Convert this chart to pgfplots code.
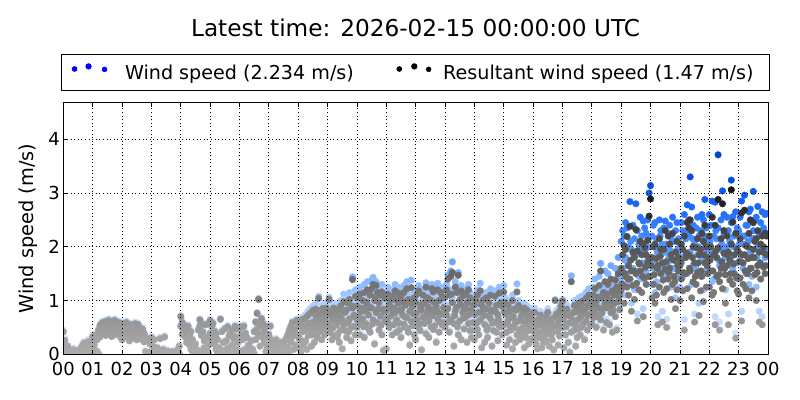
\documentclass[border=0pt]{standalone}
\usepackage{pgfplots}
\pgfplotsset{compat=1.18}
\usepackage{pgfplotstable}
\usepackage{fontspec}
\setmainfont{DejaVu Sans}
\pgfplotsset{
  colormap={blues}{rgb255(0cm)=(228,238,255) rgb255(1cm)=(205,225,255) rgb255(2cm)=(168,204,255) rgb255(3cm)=(125,178,255) rgb255(4cm)=(82,148,255) rgb255(5cm)=(42,118,255) rgb255(6cm)=(12,90,240) rgb255(7cm)=(0,72,218) rgb255(8cm)=(0,58,200)},
  colormap={greys}{rgb255(0cm)=(172,172,172) rgb255(1cm)=(156,156,156) rgb255(2cm)=(128,128,128) rgb255(3cm)=(104,104,104) rgb255(4cm)=(84,84,84) rgb255(5cm)=(55,55,55) rgb255(6cm)=(24,24,24) rgb255(7cm)=(10,10,10) rgb255(8cm)=(0,0,0)},
}
% t = minutes after 00 UTC; a = wind speed; r = resultant wind speed (m/s)
\pgfplotstableread{
t a1 r1 a2 r2
0 0.45 0.42 0.20 0.17
3 0.30 0.26 0.05 0.03
6 0.14 0.11 0.02 0.01
9 0.06 0.04 0.18 0.15
12 0.03 0.02 0.08 0.06
15 0.10 0.07 0.02 0.00
18 0.04 0.02 0.06 0.04
21 0.02 0.01 0.12 0.09
24 0.07 0.05 0.03 0.01
27 0.04 0.02 0.09 0.06
30 0.02 0.00 0.05 0.03
33 0.11 0.08 0.03 0.01
36 0.05 0.03 0.15 0.12
39 0.20 0.16 0.04 0.02
42 0.08 0.05 0.24 0.21
45 0.03 0.01 0.13 0.10
48 0.22 0.19 0.06 0.04
51 0.10 0.07 0.28 0.24
54 0.04 0.02 0.17 0.14
57 0.25 0.22 0.08 0.05
60 0.36 0.33 0.04 0.02
63 0.12 0.09 0.20 0.17
66 0.05 0.02 0.40 0.36
69 0.30 0.27 0.08 0.05
72 0.48 0.45 0.03 0.01
75 0.56 0.53 0.35 0.32
78 0.42 0.39 0.60 0.57
81 0.62 0.59 0.50 0.47
84 0.45 0.42 0.55 0.52
87 0.38 0.35 0.64 0.61
90 0.58 0.55 0.47 0.44
93 0.66 0.63 0.52 0.49
96 0.44 0.41 0.60 0.57
99 0.53 0.50 0.36 0.33
102 0.62 0.59 0.46 0.43
105 0.50 0.47 0.66 0.63
108 0.40 0.37 0.55 0.52
111 0.57 0.54 0.45 0.42
114 0.48 0.45 0.62 0.59
117 0.35 0.32 0.54 0.51
120 0.55 0.52 0.30 0.27
123 0.42 0.39 0.60 0.57
126 0.48 0.45 0.35 0.32
129 0.62 0.59 0.44 0.41
132 0.38 0.35 0.52 0.49
135 0.50 0.47 0.28 0.25
138 0.58 0.55 0.45 0.42
141 0.33 0.30 0.54 0.51
144 0.46 0.43 0.40 0.37
147 0.60 0.57 0.50 0.47
150 0.40 0.37 0.30 0.27
153 0.52 0.49 0.58 0.55
156 0.36 0.33 0.46 0.43
159 0.45 0.42 0.32 0.29
162 0.30 0.27 0.50 0.47
165 0.42 0.39 0.26 0.23
168 0.35 0.32 0.08 0.05
171 0.05 0.03 0.30 0.27
174 0.28 0.25 0.03 0.01
177 0.06 0.04 0.22 0.19
180 0.34 0.31 0.04 0.02
183 0.08 0.05 0.18 0.15
186 0.02 0.01 0.30 0.27
189 0.05 0.03 0.10 0.07
192 0.15 0.12 0.02 0.00
195 0.03 0.01 0.07 0.05
198 0.32 0.29 0.04 0.02
201 0.06 0.04 0.02 0.01
204 0.02 0.00 0.12 0.09
207 0.35 0.32 0.05 0.03
210 0.04 0.02 0.03 0.01
213 0.09 0.06 0.02 0.00
216 0.03 0.01 0.06 0.04
219 0.02 0.00 0.04 0.02
222 0.07 0.05 0.02 0.01
225 0.03 0.01 0.08 0.05
228 0.05 0.03 0.02 0.00
231 0.02 0.01 0.06 0.03
234 0.12 0.09 0.03 0.01
237 0.04 0.02 0.18 0.15
240 0.72 0.70 0.55 0.52
243 0.62 0.59 0.40 0.37
246 0.48 0.45 0.58 0.55
249 0.35 0.32 0.50 0.47
252 0.44 0.41 0.25 0.22
255 0.30 0.27 0.55 0.52
258 0.20 0.17 0.38 0.35
261 0.45 0.42 0.12 0.09
264 0.08 0.05 0.30 0.27
267 0.15 0.12 0.04 0.02
270 0.03 0.01 0.22 0.19
273 0.06 0.04 0.02 0.00
276 0.48 0.45 0.10 0.07
279 0.66 0.64 0.55 0.52
282 0.38 0.35 0.60 0.57
285 0.04 0.02 0.45 0.42
288 0.28 0.25 0.15 0.12
291 0.58 0.55 0.06 0.03
294 0.10 0.07 0.35 0.32
297 0.02 0.01 0.20 0.17
300 0.65 0.63 0.42 0.39
303 0.55 0.52 0.28 0.25
306 0.35 0.32 0.60 0.57
309 0.22 0.19 0.46 0.43
312 0.40 0.37 0.12 0.09
315 0.05 0.03 0.30 0.27
318 0.15 0.12 0.03 0.01
321 0.67 0.65 0.08 0.05
324 0.45 0.42 0.02 0.00
327 0.10 0.07 0.25 0.22
330 0.04 0.02 0.50 0.47
333 0.28 0.25 0.06 0.04
336 0.54 0.51 0.15 0.12
339 0.02 0.01 0.38 0.35
342 0.42 0.39 0.05 0.03
345 0.20 0.17 0.48 0.45
348 0.08 0.05 0.32 0.29
351 0.36 0.33 0.55 0.52
354 0.50 0.47 0.12 0.09
357 0.25 0.22 0.04 0.02
360 0.50 0.47 0.05 0.03
363 0.38 0.35 0.54 0.51
366 0.30 0.27 0.10 0.07
369 0.55 0.52 0.03 0.01
372 0.12 0.09 0.42 0.39
375 0.34 0.31 0.06 0.04
378 0.04 0.02 0.20 0.17
381 0.16 0.13 0.02 0.00
384 0.08 0.05 0.28 0.25
387 0.02 0.01 0.12 0.09
390 0.45 0.42 0.04 0.02
393 0.62 0.60 0.30 0.27
396 0.78 0.76 0.50 0.47
399 1.04 1.02 0.40 0.37
402 0.56 0.53 0.18 0.15
405 0.68 0.66 0.35 0.32
408 0.42 0.39 0.60 0.57
411 0.25 0.22 0.48 0.45
414 0.55 0.52 0.08 0.05
417 0.15 0.12 0.36 0.33
420 0.40 0.37 0.05 0.03
423 0.22 0.19 0.55 0.52
426 0.08 0.05 0.30 0.27
429 0.15 0.12 0.02 0.01
432 0.03 0.01 0.25 0.22
435 0.30 0.27 0.10 0.07
438 0.06 0.04 0.18 0.15
441 0.12 0.09 0.03 0.01
444 0.25 0.22 0.07 0.05
447 0.02 0.00 0.14 0.11
450 0.20 0.17 0.04 0.02
453 0.10 0.07 0.28 0.25
456 0.33 0.30 0.05 0.03
459 0.16 0.13 0.40 0.37
462 0.48 0.45 0.08 0.05
465 0.26 0.23 0.55 0.52
468 0.62 0.59 0.35 0.32
471 0.12 0.09 0.45 0.42
474 0.50 0.47 0.20 0.17
477 0.38 0.35 0.66 0.63
480 0.55 0.52 0.15 0.12
483 0.30 0.27 0.62 0.58
486 0.68 0.64 0.08 0.05
489 0.20 0.17 0.45 0.42
492 0.48 0.45 0.72 0.66
495 0.74 0.68 0.28 0.25
498 0.12 0.09 0.58 0.54
501 0.62 0.57 0.38 0.35
504 0.85 0.76 0.50 0.46
507 0.40 0.36 0.18 0.15
510 0.90 0.82 0.66 0.60
513 0.55 0.50 0.25 0.22
516 0.78 0.72 0.95 0.84
519 0.35 0.31 0.60 0.55
522 1.08 1.04 0.45 0.41
525 0.70 0.64 0.82 0.75
528 0.50 0.45 0.30 0.27
531 0.88 0.80 0.62 0.57
534 0.40 0.36 0.75 0.68
537 0.95 0.86 0.55 0.50
540 0.80 0.73 0.50 0.45
543 1.06 1.02 0.62 0.56
546 0.45 0.40 0.88 0.80
549 0.70 0.64 0.30 0.27
552 0.95 0.86 0.55 0.50
555 0.38 0.34 0.78 0.70
558 0.60 0.55 0.92 0.84
561 0.85 0.77 0.42 0.38
564 0.25 0.22 0.68 0.62
567 1.00 0.90 0.50 0.45
570 0.72 0.65 0.12 0.10
573 1.12 0.98 0.60 0.55
576 0.48 0.44 0.85 0.78
579 0.90 0.82 0.35 0.31
582 0.65 0.59 1.05 0.95
585 1.15 1.02 0.72 0.66
588 0.55 0.50 0.28 0.25
591 1.44 1.39 0.95 0.86
594 0.80 0.73 0.58 0.52
597 1.20 1.08 0.40 0.36
600 1.00 0.90 0.55 0.50
603 0.75 0.68 1.18 1.05
606 1.25 1.12 0.40 0.36
609 0.60 0.55 0.95 0.86
612 1.10 1.00 0.72 0.66
615 0.35 0.31 1.30 1.15
618 0.88 0.80 0.62 0.57
621 1.35 1.20 1.00 0.92
624 0.52 0.47 0.80 0.73
627 1.20 1.10 0.45 0.41
630 0.95 0.86 1.38 1.22
633 1.43 1.30 0.70 0.64
636 0.22 0.19 1.10 1.00
639 1.35 1.28 0.85 0.78
642 0.65 0.59 1.25 1.15
645 1.05 0.96 0.50 0.45
648 0.78 0.71 1.20 1.10
651 1.30 1.16 0.40 0.36
654 0.10 0.07 0.92 0.84
657 1.15 1.04 0.68 0.62
660 0.90 0.82 0.12 0.10
663 1.25 1.12 0.65 0.59
666 0.55 0.50 1.00 0.92
669 1.10 1.00 0.78 0.71
672 0.40 0.36 1.20 1.08
675 0.95 0.86 0.60 0.55
678 1.30 1.18 0.85 0.77
681 0.70 0.64 0.45 0.41
684 1.05 0.95 1.25 1.14
687 0.50 0.45 0.90 0.82
690 1.18 1.06 0.35 0.31
693 0.80 0.73 1.08 0.98
696 0.62 0.56 1.28 1.15
699 1.00 0.91 0.55 0.50
702 1.35 1.22 0.75 0.68
705 0.45 0.41 1.12 1.02
708 0.88 0.80 0.20 0.17
711 1.38 1.24 0.68 0.62
714 0.58 0.53 0.98 0.89
717 1.15 1.05 0.40 0.36
720 1.05 0.96 0.30 0.27
723 0.70 0.64 1.22 1.12
726 1.28 1.18 0.55 0.50
729 0.48 0.44 0.95 0.87
732 0.90 0.82 0.10 0.08
735 1.20 1.10 0.75 0.69
738 0.62 0.57 1.05 0.96
741 1.33 1.25 0.42 0.38
744 0.85 0.78 1.15 1.05
747 0.35 0.31 0.68 0.62
750 1.10 1.01 0.92 0.84
753 0.78 0.71 1.30 1.22
756 1.25 1.16 0.50 0.46
759 0.58 0.53 0.85 0.78
762 0.98 0.90 0.25 0.22
765 1.32 1.20 0.72 0.66
768 0.45 0.41 1.10 1.00
771 0.82 0.75 1.25 1.15
774 1.15 1.05 0.60 0.55
777 0.65 0.59 0.95 0.87
780 1.15 1.06 0.55 0.50
783 0.80 0.73 1.30 1.20
786 1.48 1.40 0.92 0.85
789 0.45 0.41 1.20 1.10
792 1.55 1.45 0.70 0.64
795 1.72 1.52 1.05 0.96
798 0.18 0.15 0.62 0.57
801 1.35 1.25 0.88 0.80
804 0.95 0.87 1.25 1.15
807 1.52 1.47 0.40 0.36
810 0.68 0.62 1.10 1.01
813 1.28 1.18 0.30 0.27
816 0.85 0.78 1.18 1.08
819 0.52 0.47 0.95 0.87
822 1.22 1.12 0.75 0.69
825 1.05 0.96 0.25 0.22
828 0.62 0.57 1.30 1.20
831 1.15 1.05 0.48 0.44
834 0.35 0.31 0.90 0.82
837 1.00 0.92 0.65 0.59
840 1.00 0.92 0.30 0.27
843 0.62 0.57 1.10 1.01
846 1.20 1.10 0.50 0.46
849 0.40 0.36 0.85 0.78
852 1.32 1.18 0.70 0.64
855 0.85 0.78 0.15 0.12
858 1.10 1.01 0.95 0.87
861 0.25 0.22 0.60 0.55
864 0.92 0.84 1.15 1.05
867 0.55 0.50 0.35 0.31
870 1.05 0.96 0.78 0.71
873 0.72 0.66 1.22 1.10
876 0.18 0.15 0.90 0.82
879 0.88 0.80 0.48 0.44
882 1.18 1.08 0.65 0.59
885 0.45 0.41 1.00 0.91
888 0.80 0.73 0.28 0.25
891 1.25 1.14 0.58 0.53
894 0.62 0.56 1.05 0.96
897 0.98 0.89 0.40 0.36
900 1.28 1.16 0.60 0.55
903 0.82 0.75 1.05 0.96
906 0.45 0.41 0.20 0.17
909 1.00 0.91 0.70 0.64
912 0.30 0.27 0.88 0.80
915 0.75 0.68 0.50 0.45
918 1.10 1.00 0.12 0.10
921 0.55 0.50 0.92 0.84
924 0.25 0.22 0.65 0.59
927 1.31 1.16 0.40 0.36
930 0.68 0.62 1.00 0.91
933 0.95 0.86 0.30 0.27
936 0.40 0.36 0.78 0.71
939 0.85 0.77 0.55 0.50
942 0.15 0.12 0.95 0.86
945 0.62 0.56 0.35 0.31
948 0.90 0.82 0.70 0.64
951 0.48 0.44 0.22 0.19
954 0.78 0.71 0.58 0.53
957 0.32 0.29 0.85 0.77
960 0.70 0.64 0.30 0.27
963 0.45 0.41 0.86 0.78
966 0.22 0.19 0.55 0.50
969 0.62 0.56 0.12 0.10
972 0.35 0.31 0.72 0.66
975 0.80 0.73 0.45 0.41
978 0.15 0.12 0.60 0.55
981 0.52 0.47 0.25 0.22
984 0.68 0.62 0.40 0.36
987 0.28 0.25 0.78 0.71
990 0.85 0.78 0.50 0.45
993 0.42 0.38 0.18 0.15
996 0.60 0.55 0.70 0.64
999 0.30 0.27 0.48 0.44
1002 0.75 0.68 0.10 0.08
1005 1.02 1.00 0.58 0.53
1008 0.50 0.45 0.82 0.75
1011 0.20 0.17 0.65 0.59
1014 0.88 0.80 0.38 0.34
1017 0.55 0.50 0.95 0.90
1020 1.02 0.99 0.55 0.50
1023 0.78 0.71 0.15 0.12
1026 0.40 0.36 0.90 0.82
1029 0.92 0.84 0.62 0.56
1032 0.25 0.22 0.80 0.73
1035 0.65 0.59 0.05 0.04
1038 1.46 1.35 0.45 0.41
1041 0.85 0.77 0.70 0.64
1044 0.50 0.45 1.00 0.91
1047 0.18 0.15 0.62 0.56
1050 0.95 0.86 0.35 0.31
1053 0.72 0.65 1.05 0.95
1056 0.40 0.36 0.85 0.77
1059 1.08 0.98 0.55 0.50
1062 0.62 0.56 0.95 0.86
1065 0.88 0.80 0.30 0.27
1068 1.15 1.04 0.68 0.62
1071 0.50 0.45 1.00 0.91
1074 0.80 0.73 1.22 1.10
1077 0.98 0.89 0.60 0.55
1080 1.10 0.98 0.62 0.56
1083 0.75 0.68 1.25 1.10
1086 1.40 1.22 0.90 0.82
1089 0.55 0.50 1.10 0.98
1092 1.20 1.06 0.80 0.72
1095 0.95 0.86 1.45 1.28
1098 1.69 1.55 0.70 0.64
1101 0.85 0.77 1.22 1.08
1104 1.30 1.15 0.50 0.45
1107 1.05 0.94 1.55 1.35
1110 0.65 0.59 0.95 0.86
1113 1.50 1.30 1.15 1.02
1116 1.00 0.90 0.60 0.55
1119 1.65 1.40 0.85 0.77
1122 0.45 0.41 1.35 1.18
1125 1.25 1.10 1.05 0.94
1128 0.78 0.70 1.60 1.38
1131 1.42 1.25 0.50 0.45
1134 1.10 0.98 1.80 1.50
1137 0.92 0.83 1.30 1.12
1140 2.10 1.60 1.40 1.20
1143 1.60 1.30 2.30 1.85
1146 2.20 2.02 1.10 0.95
1149 1.80 1.45 2.45 1.95
1152 2.35 2.19 1.50 1.25
1155 1.30 1.10 2.00 1.65
1158 2.84 2.38 1.75 1.40
1161 1.95 1.55 0.95 0.80
1164 2.40 1.90 1.60 1.28
1167 1.20 1.02 2.15 1.80
1170 2.80 2.32 1.85 1.50
1173 0.75 0.62 2.30 1.92
1176 2.05 1.70 1.45 1.20
1179 2.55 2.10 1.90 1.55
1182 1.40 1.15 2.20 1.85
1185 2.48 2.05 0.85 0.70
1188 1.70 1.42 2.35 1.98
1191 2.25 1.85 1.55 1.30
1194 2.50 2.12 2.00 1.70
1197 3.00 2.57 1.75 1.45
1200 3.14 2.89 1.80 1.45
1203 2.20 1.80 1.30 1.05
1206 1.60 1.30 2.40 2.00
1209 2.45 2.05 1.15 0.95
1212 1.35 1.10 2.15 1.78
1215 2.00 1.65 0.70 0.55
1218 2.50 2.15 1.55 1.25
1221 1.85 1.50 2.30 1.95
1224 0.80 0.60 2.05 1.70
1227 2.35 1.95 1.40 1.15
1230 2.48 2.30 1.90 1.58
1233 1.50 1.22 0.65 0.50
1236 2.25 2.20 1.70 1.40
1239 1.95 1.60 2.40 2.05
1242 1.25 1.02 2.20 1.85
1245 2.55 2.25 1.60 1.30
1248 1.75 1.45 2.10 1.75
1251 2.30 1.90 1.05 0.85
1254 1.45 1.20 2.45 2.10
1257 2.15 1.80 1.85 1.55
1260 2.00 1.65 1.25 1.00
1263 2.45 2.05 1.70 1.40
1266 1.45 1.18 2.30 1.95
1269 2.60 2.20 0.65 0.45
1272 1.85 1.50 2.15 1.80
1275 2.78 2.45 1.50 1.22
1278 2.20 1.85 2.50 2.35
1281 3.30 2.50 1.90 1.55
1284 1.30 1.05 2.74 2.30
1287 2.40 2.00 1.65 1.35
1290 2.05 1.70 0.75 0.60
1293 1.60 1.30 2.35 1.98
1296 2.55 2.15 1.85 1.52
1299 0.95 0.72 2.20 1.85
1302 2.30 1.95 1.45 1.18
1305 1.75 1.45 2.60 2.25
1308 2.50 2.10 1.20 0.98
1311 2.88 2.40 2.05 1.70
1314 1.55 1.25 2.35 2.00
1317 2.15 1.80 1.80 1.50
1320 2.60 2.20 1.55 1.25
1323 1.90 1.55 2.40 2.00
1326 2.85 2.55 1.35 1.10
1329 1.40 1.15 2.20 1.85
1332 2.83 2.40 0.70 0.55
1335 2.15 1.80 1.80 1.45
1338 3.71 2.88 2.35 1.98
1341 1.65 1.35 0.60 0.45
1344 2.50 2.15 1.95 1.60
1347 3.04 2.80 1.50 1.22
1350 2.25 1.88 2.60 2.30
1353 1.80 1.48 1.20 0.95
1356 2.55 2.20 2.00 1.65
1359 0.75 0.55 2.30 1.90
1362 2.10 1.75 1.70 1.38
1365 3.24 3.06 2.45 2.05
1368 2.56 2.46 1.60 1.30
1371 1.85 1.50 2.20 1.85
1374 0.40 0.30 2.65 2.25
1377 2.35 1.95 1.45 1.18
1380 2.30 1.90 1.40 1.12
1383 1.75 1.42 2.55 2.15
1386 2.85 2.63 0.80 0.62
1389 2.05 1.70 1.60 1.30
1392 2.96 2.68 2.20 1.85
1395 1.50 1.22 2.40 2.02
1398 2.40 2.00 1.85 1.50
1401 1.30 1.05 2.65 2.25
1404 2.70 2.50 1.95 1.60
1407 2.15 1.80 1.45 1.18
1410 3.03 2.45 2.30 1.95
1413 1.80 1.48 2.50 2.10
1416 2.55 2.15 1.25 1.00
1419 2.00 1.65 2.75 2.30
1422 0.80 0.60 2.25 1.90
1425 2.45 2.05 1.70 1.40
1428 2.65 2.20 0.70 0.55
1431 1.95 1.62 2.35 2.00
1434 2.60 2.25 1.80 1.50
1437 2.25 1.85 2.62 2.20
}\data
\pgfplotstableread{
t a3 r3
481.5 0.35 0.32
487.5 0.58 0.54
493.5 0.25 0.22
499.5 0.80 0.72
505.5 0.62 0.58
511.5 0.42 0.39
517.5 0.70 0.65
523.5 0.55 0.51
529.5 0.92 0.85
535.5 0.65 0.60
541.5 0.60 0.56
547.5 0.82 0.76
553.5 0.70 0.65
559.5 0.35 0.32
565.5 0.78 0.72
571.5 0.88 0.82
577.5 0.62 0.58
583.5 0.45 0.42
589.5 0.98 0.90
595.5 0.75 0.70
601.5 0.68 0.63
607.5 0.85 0.79
613.5 0.55 0.51
619.5 1.05 0.97
625.5 0.95 0.88
631.5 0.60 0.56
637.5 1.15 1.06
643.5 0.90 0.84
649.5 0.58 0.54
655.5 0.85 0.80
661.5 0.72 0.67
667.5 0.95 0.88
673.5 0.85 0.79
679.5 1.10 1.02
685.5 0.62 0.58
691.5 0.90 0.84
697.5 0.75 0.70
703.5 0.52 0.48
709.5 1.05 0.97
715.5 0.80 0.75
721.5 0.82 0.76
727.5 0.62 0.58
733.5 1.00 0.93
739.5 0.75 0.70
745.5 0.95 0.88
751.5 0.55 0.51
757.5 1.05 0.97
763.5 0.88 0.82
769.5 0.65 0.60
775.5 0.80 0.74
781.5 0.90 0.84
787.5 0.65 0.60
793.5 1.20 1.12
799.5 0.78 0.72
805.5 0.55 0.51
811.5 1.00 0.93
817.5 0.72 0.67
823.5 0.92 0.85
829.5 0.80 0.74
835.5 0.48 0.45
841.5 0.80 0.74
847.5 0.65 0.60
853.5 1.00 0.93
859.5 0.78 0.72
865.5 0.48 0.45
871.5 0.90 0.83
877.5 0.62 0.58
883.5 0.85 0.79
889.5 0.70 0.65
895.5 0.55 0.51
901.5 0.85 0.79
907.5 0.62 0.58
913.5 0.55 0.51
919.5 0.75 0.70
925.5 0.88 0.82
931.5 0.50 0.46
937.5 0.68 0.63
943.5 0.42 0.39
949.5 0.80 0.74
955.5 0.58 0.54
961.5 0.52 0.48
967.5 0.40 0.37
973.5 0.62 0.58
979.5 0.35 0.32
985.5 0.55 0.51
991.5 0.68 0.63
997.5 0.40 0.37
1003.5 0.58 0.54
1009.5 0.45 0.42
1015.5 0.72 0.67
1021.5 0.70 0.65
1027.5 0.55 0.51
1033.5 0.78 0.72
1039.5 0.62 0.58
1045.5 0.85 0.79
1051.5 0.52 0.48
1057.5 0.75 0.70
1063.5 0.90 0.84
1069.5 0.80 0.74
1075.5 0.95 0.88
1081.5 0.85 0.78
1087.5 1.00 0.92
1093.5 0.75 0.69
1099.5 1.15 1.05
1105.5 0.95 0.87
1111.5 1.25 1.12
1117.5 1.10 1.00
1123.5 0.90 0.82
1129.5 1.30 1.18
1135.5 1.20 1.08
1141.5 1.50 1.30
1147.5 1.75 1.50
1153.5 1.65 1.40
1159.5 2.10 1.75
1165.5 1.85 1.55
1171.5 1.55 1.32
1177.5 2.00 1.68
1183.5 1.70 1.45
1189.5 1.95 1.62
1195.5 2.15 1.80
1201.5 2.00 1.65
1207.5 1.75 1.48
1213.5 1.90 1.60
1219.5 2.20 1.82
1225.5 1.65 1.38
1231.5 2.05 1.72
1237.5 1.80 1.52
1243.5 2.10 1.78
1249.5 1.60 1.35
1255.5 1.95 1.65
1261.5 2.05 1.72
1267.5 1.80 1.52
1273.5 2.25 1.88
1279.5 1.90 1.60
1285.5 2.15 1.80
1291.5 1.70 1.45
1297.5 2.00 1.70
1303.5 1.85 1.55
1309.5 2.20 1.85
1315.5 1.95 1.65
1321.5 2.10 1.75
1327.5 1.85 1.55
1333.5 2.30 1.92
1339.5 1.75 1.48
1345.5 2.05 1.72
1351.5 1.90 1.60
1357.5 2.20 1.85
1363.5 1.80 1.50
1369.5 2.00 1.68
1375.5 1.70 1.42
1381.5 2.05 1.72
1387.5 2.20 1.85
1393.5 1.85 1.55
1399.5 2.10 1.78
1405.5 1.90 1.60
1411.5 2.15 1.80
1417.5 1.80 1.52
1423.5 2.00 1.70
1429.5 2.25 1.90
1435.5 1.95 1.65
}\dataC
\begin{document}
\begin{tikzpicture}
\useasboundingbox (0,0) rectangle (800bp,400bp);
\begin{axis}[
  at={(63.3bp,45.7bp)}, anchor=south west,
  scale only axis, width=704.7bp, height=251.6bp,
  xmin=0, xmax=1440, ymin=0, ymax=4.68,
  xtick={0,60,...,1440},
  xticklabels={00,01,02,03,04,05,06,07,08,09,10,11,12,13,14,15,16,17,18,19,20,21,22,23,00},
  ytick={0,1,2,3,4}, yticklabels={0,1,2,3,4},
  tick align=inside, major tick length=4bp,
  tick style={black, line width=0.8bp},
  axis line style={line width=1bp},
  grid=major,
  major grid style={black, line width=0.7bp, dash pattern=on 1bp off 2.6bp},
  axis on top,
  clip marker paths=true,
  point meta min=0, point meta max=4,
  tick label style={font=\fontsize{18}{18}\selectfont},
  xticklabel style={inner ysep=0pt},
  yticklabel style={inner ysep=0pt},
  xticklabel shift=7.4bp,
  ylabel={Wind speed (m/s)},
  ylabel style={font=\fontsize{19.4}{19.4}\selectfont, at={(axis description cs:-0.0501,0.5)}, anchor=center},
  title={Latest time: 2026-02-15 00:00:00 UTC},
  title style={font=\fontsize{23.3}{24}\selectfont, at={(axis description cs:0.5,1)}, anchor=base, yshift=60.4bp},
  legend columns=2,
  legend style={at={(axis description cs:0.5,1)}, anchor=south, yshift=12bp,
    draw=black, line width=1bp, inner xsep=0bp, inner ysep=9bp,
    font=\fontsize{19.2}{19.2}\selectfont,
    nodes={inner sep=0pt},
    /tikz/every odd column/.append style={column sep=11.7bp},
    /tikz/every even column/.append style={column sep=42.6bp}},
  blues/.style={scatter, only marks, mark=*, mark size=3.3bp, colormap name=blues,
    scatter/use mapped color={draw=mapped color, fill=mapped color}},
  greys/.style={scatter, only marks, mark=*, mark size=3.3bp, colormap name=greys,
    scatter/use mapped color={draw=mapped color, fill=mapped color}},
]
\addplot[blues, point meta=\thisrow{a1},
  legend image code/.code={\path (-12.3bp,0bp) (38.3bp,0bp); \fill[blue] (0bp,4.2bp) circle (2.3bp) (14bp,6.8bp) circle (2.6bp) (30bp,3.8bp) circle (2.2bp);}]
  table[x=t, y=a1] {\data};
\addlegendentry{Wind speed (2.234 m/s)}
\addplot[blues, point meta=\thisrow{a2}, forget plot] table[x=t, y=a2] {\data};
\addplot[blues, point meta=\thisrow{a3}, forget plot] table[x=t, y=a3] {\dataC};
\addplot[greys, point meta=\thisrow{r1},
  legend image code/.code={\path (-2.3bp,0bp) (31.7bp,0bp); \fill[black] (0bp,4.2bp) circle (2.3bp) (15bp,6.8bp) circle (2.6bp) (29.4bp,3.8bp) circle (2.2bp);}]
  table[x=t, y=r1] {\data};
\addlegendentry{Resultant wind speed (1.47 m/s)\rule{16bp}{0pt}}
\addplot[greys, point meta=\thisrow{r2}, forget plot] table[x=t, y=r2] {\data};
\addplot[greys, point meta=\thisrow{r3}, forget plot] table[x=t, y=r3] {\dataC};
\end{axis}
\end{tikzpicture}
\end{document}
